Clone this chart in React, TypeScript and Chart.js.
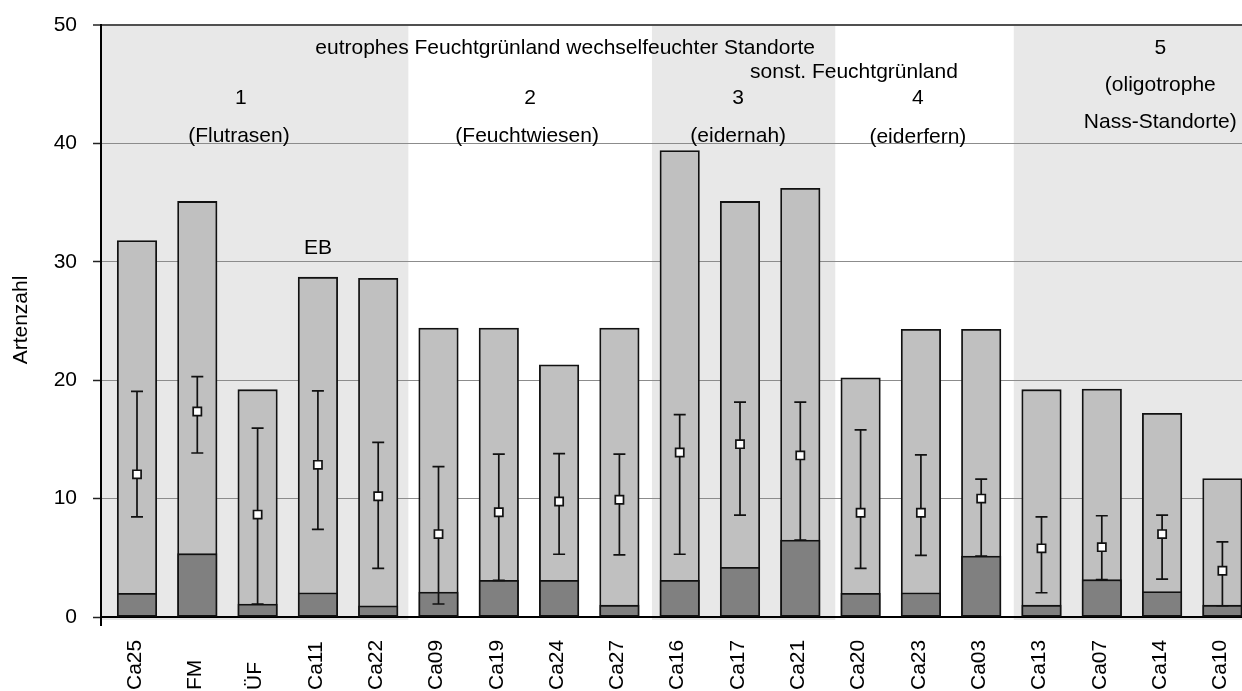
import React, { useEffect, useRef } from "react";
import { Chart, registerables } from "chart.js";

Chart.register(...registerables);

// ---------- data ----------
const categories = ["Ca25", "FM", "ÜF", "Ca11", "Ca22", "Ca09", "Ca19", "Ca24", "Ca27", "Ca16", "Ca17", "Ca21", "Ca20", "Ca23", "Ca03", "Ca13", "Ca07", "Ca14", "Ca10"];
const totalSpecies = [31.8, 35.1, 19.2, 28.7, 28.6, 24.4, 24.4, 21.3, 24.4, 39.4, 35.1, 36.2, 20.2, 24.3, 24.3, 19.2, 19.25, 17.2, 11.7];
const lowerSpecies = [2.0, 5.35, 1.1, 2.05, 0.95, 2.1, 3.1, 3.1, 1.0, 3.1, 4.2, 6.5, 2.0, 2.05, 5.15, 1.0, 3.15, 2.15, 1.0];
const meanValues = [12.05, 17.35, 8.65, 12.85, 10.2, 7.0, 8.85, 9.75, 9.9, 13.9, 14.6, 13.65, 8.8, 8.8, 10.0, 5.8, 5.9, 7.0, 3.9];
const minValues = [8.45, 13.85, 1.1, 7.4, 4.1, 1.1, 3.1, 5.3, 5.25, 5.3, 8.6, 6.5, 4.1, 5.2, 5.15, 2.05, 3.15, 3.2, 0.95];
const maxValues = [19.05, 20.3, 15.95, 19.1, 14.75, 12.7, 13.75, 13.8, 13.75, 17.1, 18.15, 18.15, 15.8, 13.7, 11.65, 8.45, 8.55, 8.6, 6.35];
const yTicks = [0, 10, 20, 30, 40, 50];
const yTitle = "Artenzahl";

// shaded groups (edges in category units)
const bandLeft = [-0.6, 8.54, 14.54];
const bandRight = [4.5, 11.58, 18.4];

// annotation texts and their anchor positions in data units
const annoTexts = [
  "eutrophes Feuchtgrünland wechselfeuchter Standorte",
  "sonst. Feuchtgrünland",
  "1", "(Flutrasen)",
  "2", "(Feuchtwiesen)",
  "3", "(eidernah)",
  "4", "(eiderfern)",
  "5", "(oligotrophe", "Nass-Standorte)",
  "EB",
];
const annoX = [7.1, 11.89, 1.72, 1.69, 6.52, 6.47, 9.97, 9.97, 12.95, 12.95, 16.97, 16.97, 16.97, 3.0];
const annoY = [48.06, 46.03, 43.83, 40.63, 43.83, 40.63, 43.83, 40.63, 43.83, 40.54, 48.06, 44.93, 41.81, 31.17];

// ---------- style ----------
const FONT = "'Liberation Sans', Arial, Helvetica, sans-serif";
const FONT_SIZE = 21;
const BAND_COLOR = "#e8e8e8";
const LIGHT = "#c0c0c0";
const DARK = "#808080";
const X_MIN = -0.597;
const X_MAX = 18.325;

const decorPlugin = {
  id: "decor",
  beforeDraw(chart: any) {
    const { ctx, chartArea, scales } = chart;
    const xs = scales.x;
    ctx.save();
    ctx.fillStyle = BAND_COLOR;
    for (let b = 0; b < bandLeft.length; b++) {
      const l = Math.max(chartArea.left, xs.getPixelForValue(bandLeft[b]));
      const r = Math.min(chartArea.right, xs.getPixelForValue(bandRight[b]));
      ctx.fillRect(l, chartArea.top, r - l, chartArea.bottom - chartArea.top + 3);
    }
    ctx.restore();
  },
  beforeDatasetDraw(chart: any, args: any) {
    if (args.index !== 0) return;
    const { ctx, scales } = chart;
    const xs = scales.x;
    const ys = scales.y;
    ctx.save();
    ctx.strokeStyle = "#111";
    ctx.lineWidth = 1.7;
    const cap = 6;
    for (let i = 0; i < categories.length; i++) {
      const x = xs.getPixelForValue(i);
      const yh = ys.getPixelForValue(maxValues[i]);
      const yl = ys.getPixelForValue(minValues[i]);
      ctx.beginPath();
      ctx.moveTo(x, yh);
      ctx.lineTo(x, yl);
      ctx.moveTo(x - cap, yh);
      ctx.lineTo(x + cap, yh);
      ctx.moveTo(x - cap, yl);
      ctx.lineTo(x + cap, yl);
      ctx.stroke();
    }
    ctx.restore();
  },
  afterDraw(chart: any) {
    const { ctx, chartArea, scales } = chart;
    const xs = scales.x;
    const ys = scales.y;
    ctx.save();
    // axis crossing tick below x axis
    ctx.strokeStyle = "#000";
    ctx.lineWidth = 2;
    ctx.beginPath();
    ctx.moveTo(chartArea.left, chartArea.bottom);
    ctx.lineTo(chartArea.left, chartArea.bottom + 9);
    ctx.stroke();

    ctx.fillStyle = "#000";
    ctx.font = `${FONT_SIZE}px ${FONT}`;
    // category labels (rotated, bottom aligned)
    ctx.textAlign = "left";
    ctx.textBaseline = "middle";
    for (let i = 0; i < categories.length; i++) {
      const x = xs.getPixelForValue(i) - 2;
      ctx.save();
      ctx.translate(x, chart.height);
      ctx.rotate(-Math.PI / 2);
      ctx.fillText(categories[i], 1, 0);
      ctx.restore();
    }
    // y title
    ctx.save();
    ctx.translate(21, (chartArea.top + chartArea.bottom) / 2 - 1);
    ctx.rotate(-Math.PI / 2);
    ctx.textAlign = "center";
    ctx.fillText(yTitle, 0, 0);
    ctx.restore();
    // annotations
    ctx.textAlign = "center";
    ctx.textBaseline = "middle";
    for (let k = 0; k < annoTexts.length; k++) {
      ctx.fillText(annoTexts[k], xs.getPixelForValue(annoX[k]), ys.getPixelForValue(annoY[k]));
    }
    ctx.restore();
  },
};

export default function App() {
  const canvasRef = useRef<HTMLCanvasElement | null>(null);

  useEffect(() => {
    if (!canvasRef.current) return;
    Chart.defaults.font.family = FONT;
    const chart = new Chart(canvasRef.current, {
      type: "bar",
      data: {
        datasets: [
          {
            type: "line",
            label: "Mittelwert",
            data: meanValues.map((v, i) => ({ x: i, y: v })),
            showLine: false,
            pointStyle: "rect",
            pointRadius: 5.8,
            pointHoverRadius: 5.8,
            pointBackgroundColor: "#ffffff",
            pointBorderColor: "#111",
            pointBorderWidth: 1.7,
            order: 0,
          } as any,
          {
            type: "bar",
            label: "Rote Liste",
            data: lowerSpecies.map((v, i) => ({ x: i, y: v })),
            backgroundColor: DARK,
            borderColor: "#111",
            borderWidth: 1.8,
            borderSkipped: false,
            grouped: false,
            barThickness: 39.5,
            order: 1,
          } as any,
          {
            type: "bar",
            label: "Artenzahl gesamt",
            data: totalSpecies.map((v, i) => ({ x: i, y: v })),
            backgroundColor: LIGHT,
            borderColor: "#111",
            borderWidth: 1.8,
            borderSkipped: false,
            grouped: false,
            barThickness: 39.5,
            order: 2,
          } as any,
        ],
      },
      options: {
        responsive: false,
        animation: false,
        layout: { autoPadding: false, padding: { top: 25, left: 0, right: 0, bottom: 0 } },
        plugins: {
          legend: { display: false },
          tooltip: { enabled: false },
        },
        scales: {
          x: {
            type: "linear",
            min: X_MIN,
            max: X_MAX,
            offset: false,
            grid: { display: true, drawOnChartArea: false, drawTicks: false, offset: false },
            border: { display: true, color: "#000", width: 2 },
            ticks: { display: false },
            afterBuildTicks: (s: any) => {
              s.ticks = categories.map((_, i) => ({ value: i }));
            },
            afterFit: (s: any) => {
              s.height = 74;
            },
          },
          y: {
            type: "linear",
            min: 0,
            max: 50,
            ticks: {
              font: { family: FONT, size: FONT_SIZE },
              color: "#000",
              padding: 16,
            },
            afterBuildTicks: (s: any) => {
              s.ticks = yTicks.map((v) => ({ value: v }));
            },
            grid: {
              color: (c: any) => {
                const v = c.tick ? c.tick.value : null;
                if (v === 0) return "rgba(0,0,0,0)";
                if (v === 50) return "#505050";
                return "#8c8c8c";
              },
              lineWidth: (c: any) => (c.tick && c.tick.value === 50 ? 2 : 1),
              tickColor: "#222",
              tickLength: 8,
              tickWidth: 1.5,
            },
            border: { display: true, color: "#000", width: 2 },
            afterFit: (s: any) => {
              s.width = 101;
              s.paddingTop = 0;
              s.paddingBottom = 0;
            },
          },
        },
      } as any,
      plugins: [decorPlugin],
    });
    return () => chart.destroy();
  }, []);

  return (
    <div style={{ position: "absolute", left: 0, top: 0, width: 1242, height: 691, background: "#fff" }}>
      <canvas ref={canvasRef} width={1242} height={691} style={{ display: "block" }} />
    </div>
  );
}
